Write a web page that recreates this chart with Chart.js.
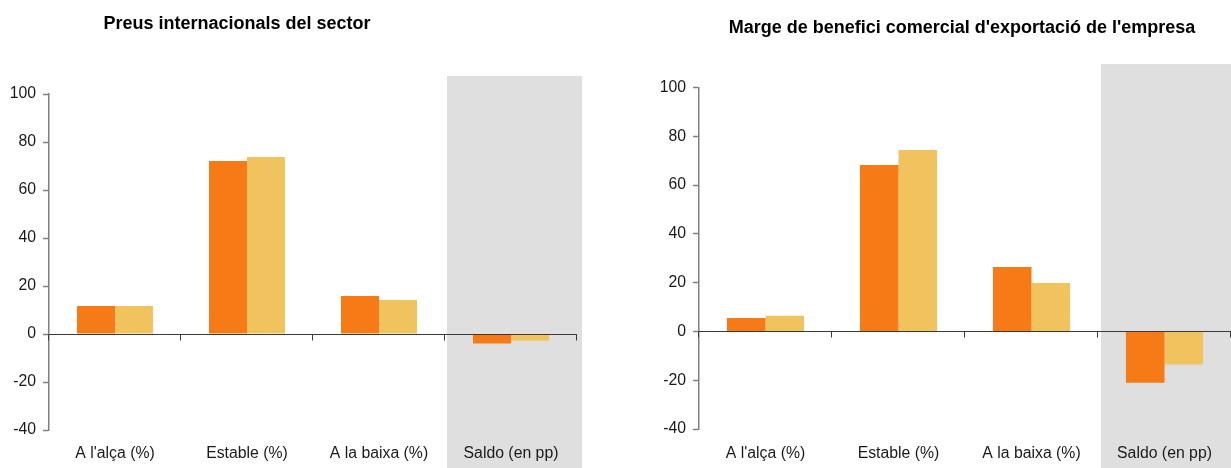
<!DOCTYPE html>
<html>
<head>
<meta charset="utf-8">
<script src="https://cdn.jsdelivr.net/npm/chart.js@4/dist/chart.umd.min.js"></script>
<style>
  html, body { margin: 0; padding: 0; background: #fff; }
  body { width: 1231px; height: 468px; position: relative; overflow: hidden; font-family: "Liberation Sans", Arial, sans-serif; }
  .wrap { position: absolute; top: 0; height: 468px; }
  .title { position: absolute; font-weight: bold; font-size: 18px; color: #000; white-space: nowrap; transform: translate(-50%, -50%); line-height: 1; }
</style>
</head>
<body>
<div class="wrap" style="left:0;width:615px;"><canvas id="c1" width="615" height="468"></canvas></div>
<div class="wrap" style="left:615px;width:616px;"><canvas id="c2" width="616" height="468"></canvas></div>
<div class="title" style="left:237px;top:23px;">Preus internacionals del sector</div>
<div class="title" style="left:962px;top:27px;">Marge de benefici comercial d'exportació de l'empresa</div>
<script>
// ---- data ----
const categories = ["A l'alça (%)", "Estable (%)", "A la baixa (%)", "Saldo (en pp)"];
const preusSeriesA = [11.7, 72.1, 15.8, -4.0];
const preusSeriesB = [11.7, 73.8, 14.2, -2.8];
const margeSeriesA = [5.5, 68.2, 26.4, -21.0];
const margeSeriesB = [6.4, 74.4, 19.9, -13.6];
const yTicksMin = -40, yTicksMax = 100, yTicksStep = 20;

const ORANGE = '#F67A15';
const YELLOW = '#F0C35E';
const FONT = '"Liberation Sans", Arial, sans-serif';

const decor = {
  id: 'decor',
  beforeDraw(chart, args, opts) {
    const ctx = chart.ctx;
    const x = chart.scales.x, y = chart.scales.y;
    const n = chart.data.labels.length;
    const w = x.width / n;
    const left = x.getPixelForValue(n - 1) - w / 2 + opts.bandShift;
    const right = Math.min(chart.width, x.right + opts.bandExtra);
    const top = y.getPixelForValue(opts.bandTopValue);
    ctx.save();
    ctx.fillStyle = '#DFDFDF';
    ctx.fillRect(left, top, right - left, chart.height - top);
    ctx.restore();
  },
  afterDatasetsDraw(chart) {
    const ctx = chart.ctx;
    const x = chart.scales.x, y = chart.scales.y;
    const n = chart.data.labels.length;
    const w = x.width / n;
    const y0 = Math.round(y.getPixelForValue(0)) + 0.5;
    ctx.save();
    ctx.strokeStyle = '#3a3a3a';
    ctx.lineWidth = 1;
    ctx.beginPath();
    ctx.moveTo(x.left, y0);
    ctx.lineTo(x.right, y0);
    for (let i = 0; i <= n; i++) {
      const bx = Math.round(x.getPixelForValue(0) - w / 2 + i * w) - 0.5;
      ctx.moveTo(bx, y0);
      ctx.lineTo(bx, y0 + 6);
    }
    ctx.stroke();
    ctx.restore();
  }
};

function makeChart(id, a, b, yWidth, padTop, padRight, xHeight, labelPad, catPct, bandTopValue, bandExtra, bandShift) {
  return new Chart(document.getElementById(id), {
    type: 'bar',
    data: {
      labels: categories,
      datasets: [
        { data: a, backgroundColor: ORANGE, borderWidth: 0 },
        { data: b, backgroundColor: YELLOW, borderWidth: 0 }
      ]
    },
    options: {
      responsive: false,
      animation: false,
      devicePixelRatio: 1,
      layout: { padding: { top: padTop, right: padRight, left: 0, bottom: 0 } },
      plugins: {
        legend: { display: false },
        tooltip: { enabled: false },
        title: { display: false },
        decor: { bandTopValue, bandExtra, bandShift }
      },
      datasets: { bar: { categoryPercentage: catPct, barPercentage: 1 } },
      scales: {
        x: {
          grid: { display: false, drawTicks: false, tickLength: 0 },
          border: { display: false },
          ticks: { color: '#1a1a1a', font: { family: FONT, size: 15.8 }, padding: labelPad, maxRotation: 0, autoSkip: false },
          afterFit(s) { s.height = xHeight; }
        },
        y: {
          min: yTicksMin, max: yTicksMax,
          ticks: { stepSize: yTicksStep, color: '#1a1a1a', font: { family: FONT, size: 15.8 }, padding: 7 },
          grid: { drawOnChartArea: false, drawTicks: true, tickLength: 6, tickColor: '#808080', tickWidth: 1.5 },
          border: { display: true, color: '#808080', width: 1.5 },
          afterFit(s) { s.width = yWidth; }
        }
      }
    },
    plugins: [decor]
  });
}

makeChart('c1', preusSeriesA, preusSeriesB, 49, 94, 38, 38, 14, 0.576, 107.5, 5, 2);
makeChart('c2', margeSeriesA, margeSeriesB, 84, 87.5, 0, 39, 15, 0.58, 109.6, 20, 3);
</script>
</body>
</html>
